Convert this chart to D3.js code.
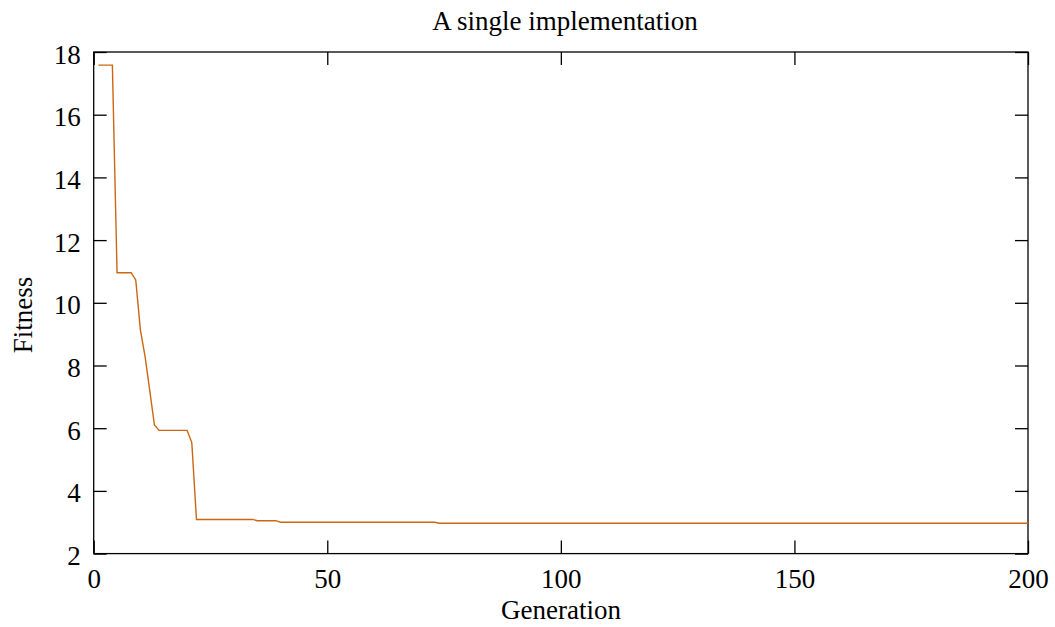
<!DOCTYPE html>
<html>
<head>
<meta charset="utf-8">
<script src="https://cdn.jsdelivr.net/npm/d3@7"></script>
<style>
  html, body { margin: 0; padding: 0; background: #fff; }
  text { font-family: "Liberation Serif", "DejaVu Serif", serif; fill: #000; }
</style>
</head>
<body>
<svg id="chart" width="1055" height="627"></svg>
<script>
// Data (generation, best fitness)
const generations = [1, 4, 5, 8, 9, 10, 11, 12, 13, 14, 20, 21, 22, 34, 35, 39, 40, 73, 74, 200];
const fitness     = [17.58, 17.58, 10.96, 10.96, 10.73, 9.13, 8.28, 7.2, 6.10, 5.93, 5.93, 5.54, 3.09, 3.09, 3.05, 3.05, 3.00, 3.00, 2.97, 2.97];
const xTicks = [0, 50, 100, 150, 200];
const yTicks = [2, 4, 6, 8, 10, 12, 14, 16, 18];
const titleText = "A single implementation";
const xLabel = "Generation";
const yLabel = "Fitness";

const svg = d3.select("#chart");
const L = 93.7, R = 1028, T = 52, B = 553.6;
const x = d3.scaleLinear().domain([0, 200]).range([L, R]);
const y = d3.scaleLinear().domain([2, 18]).range([B, T]);
const fs = 27, tickLen = 13;

// Axes with inward ticks
const axB = d3.axisBottom(x).tickValues(xTicks).tickSize(-tickLen).tickFormat(d3.format("d"));
const axT = d3.axisTop(x).tickValues(xTicks).tickSize(-tickLen).tickFormat("");
const axL = d3.axisLeft(y).tickValues(yTicks).tickSize(-tickLen).tickPadding(13).tickFormat(d3.format("d"));
const axR = d3.axisRight(y).tickValues(yTicks).tickSize(-tickLen).tickFormat("");

function style(g) {
  g.select(".domain").remove();
  g.selectAll(".tick line").attr("stroke", "#000").attr("stroke-width", 1.3);
  g.selectAll(".tick text").style("font-size", fs + "px").style("font-family", "Liberation Serif, serif").attr("fill", "#000");
}
const gB = svg.append("g").attr("transform", `translate(0,${B})`).call(axB).call(style);
gB.selectAll(".tick text").attr("dy", null).attr("y", 34);
svg.append("g").attr("transform", `translate(0,${T})`).call(axT).call(style);
const gL = svg.append("g").attr("transform", `translate(${L},0)`).call(axL).call(style);
gL.selectAll(".tick text").attr("dy", null).attr("y", 11);
svg.append("g").attr("transform", `translate(${R},0)`).call(axR).call(style);

// Frame
svg.append("rect").attr("x", L).attr("y", T).attr("width", R - L).attr("height", B - T)
  .attr("fill", "none").attr("stroke", "#000").attr("stroke-width", 1.3);

// Line
const pts = generations.map((g, i) => [g, fitness[i]]);
svg.append("path").datum(pts)
  .attr("fill", "none").attr("stroke", "#cc6611").attr("stroke-width", 1.4)
  .attr("d", d3.line().x(d => x(d[0])).y(d => y(d[1])));

// Titles
svg.append("text").attr("x", 565).attr("y", 30).attr("text-anchor", "middle")
  .style("font-size", fs + "px").text(titleText);
svg.append("text").attr("x", 561).attr("y", 619).attr("text-anchor", "middle")
  .style("font-size", fs + "px").text(xLabel);
svg.append("text").attr("transform", "translate(32,315) rotate(-90)").attr("text-anchor", "middle")
  .style("font-size", fs + "px").text(yLabel);
</script>
</body>
</html>
